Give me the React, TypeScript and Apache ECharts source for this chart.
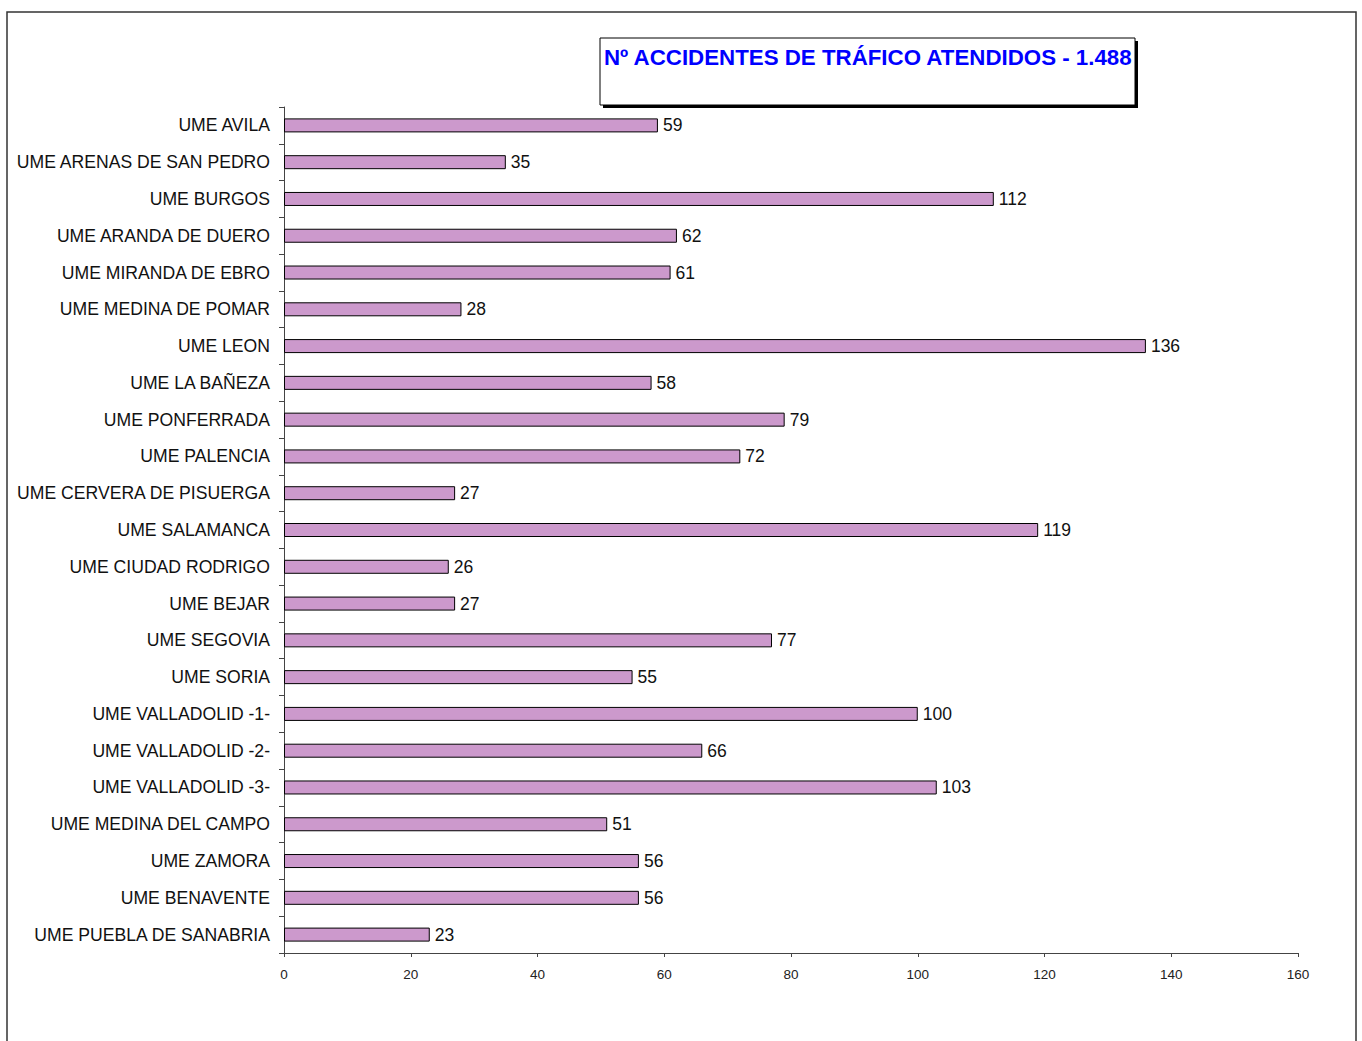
import React, { useEffect, useRef } from "react";
import * as echarts from "echarts";

const categories = [
  "UME AVILA",
  "UME ARENAS DE SAN PEDRO",
  "UME BURGOS",
  "UME ARANDA DE DUERO",
  "UME MIRANDA DE EBRO",
  "UME MEDINA DE POMAR",
  "UME LEON",
  "UME LA BAÑEZA",
  "UME PONFERRADA",
  "UME PALENCIA",
  "UME CERVERA DE PISUERGA",
  "UME SALAMANCA",
  "UME CIUDAD RODRIGO",
  "UME BEJAR",
  "UME SEGOVIA",
  "UME SORIA",
  "UME VALLADOLID -1-",
  "UME VALLADOLID -2-",
  "UME VALLADOLID -3-",
  "UME MEDINA DEL CAMPO",
  "UME ZAMORA",
  "UME BENAVENTE",
  "UME PUEBLA DE SANABRIA",
];

const values = [59, 35, 112, 62, 61, 28, 136, 58, 79, 72, 27, 119, 26, 27, 77, 55, 100, 66, 103, 51, 56, 56, 23];

const titleText = "Nº ACCIDENTES DE TRÁFICO ATENDIDOS - 1.488";

export default function App() {
  const ref = useRef<HTMLDivElement>(null);
  useEffect(() => {
    if (!ref.current) return;
    const chart = echarts.init(ref.current, undefined, { renderer: "svg" });
    chart.setOption({
      animation: false,
      backgroundColor: "#ffffff",
      textStyle: { fontFamily: "Liberation Sans, Arial, sans-serif" },
      grid: { left: 284, right: 64, top: 107, bottom: 88, containLabel: false },
      graphic: [
        {
          type: "rect",
          shape: { x: 7, y: 12, width: 1349, height: 1040 },
          style: { fill: "none", stroke: "#333333", lineWidth: 1.5 },
          silent: true,
        },
        {
          type: "rect",
          shape: { x: 603, y: 41, width: 535, height: 67 },
          style: { fill: "#000000" },
          silent: true,
        },
        {
          type: "rect",
          shape: { x: 600, y: 38, width: 535, height: 67 },
          style: { fill: "#ffffff", stroke: "#000000", lineWidth: 1 },
          silent: true,
        },
        {
          type: "text",
          x: 604,
          y: 57,
          style: {
            text: titleText,
            fill: "#0000ff",
            font: "bold 22.3px 'Liberation Sans', Arial, sans-serif",
            verticalAlign: "middle",
          },
          silent: true,
        },
      ],
      xAxis: {
        type: "value",
        min: 0,
        max: 160,
        interval: 20,
        splitLine: { show: false },
        axisLine: { show: true, lineStyle: { color: "#444444", width: 1 } },
        axisTick: { show: true, length: 4, lineStyle: { color: "#444444" } },
        axisLabel: { color: "#222222", fontSize: 13.5, margin: 14 },
      },
      yAxis: {
        type: "category",
        data: categories,
        inverse: true,
        axisLine: { show: true, lineStyle: { color: "#444444", width: 1 } },
        axisTick: { show: true, length: 5, alignWithLabel: false, lineStyle: { color: "#444444" } },
        axisLabel: { color: "#111111", fontSize: 17.6, margin: 14 },
      },
      series: [
        {
          type: "bar",
          data: values,
          barWidth: 14,
          itemStyle: { color: "#CC99CC", borderColor: "#000000", borderWidth: 1 },
          label: {
            show: true,
            position: "right",
            distance: 5,
            color: "#111111",
            fontSize: 17.5,
          },
        },
      ],
    });
    return () => chart.dispose();
  }, []);
  return (
    <div
      ref={ref}
      style={{ position: "absolute", left: 0, top: 0, width: 1362, height: 1041 }}
    />
  );
}
